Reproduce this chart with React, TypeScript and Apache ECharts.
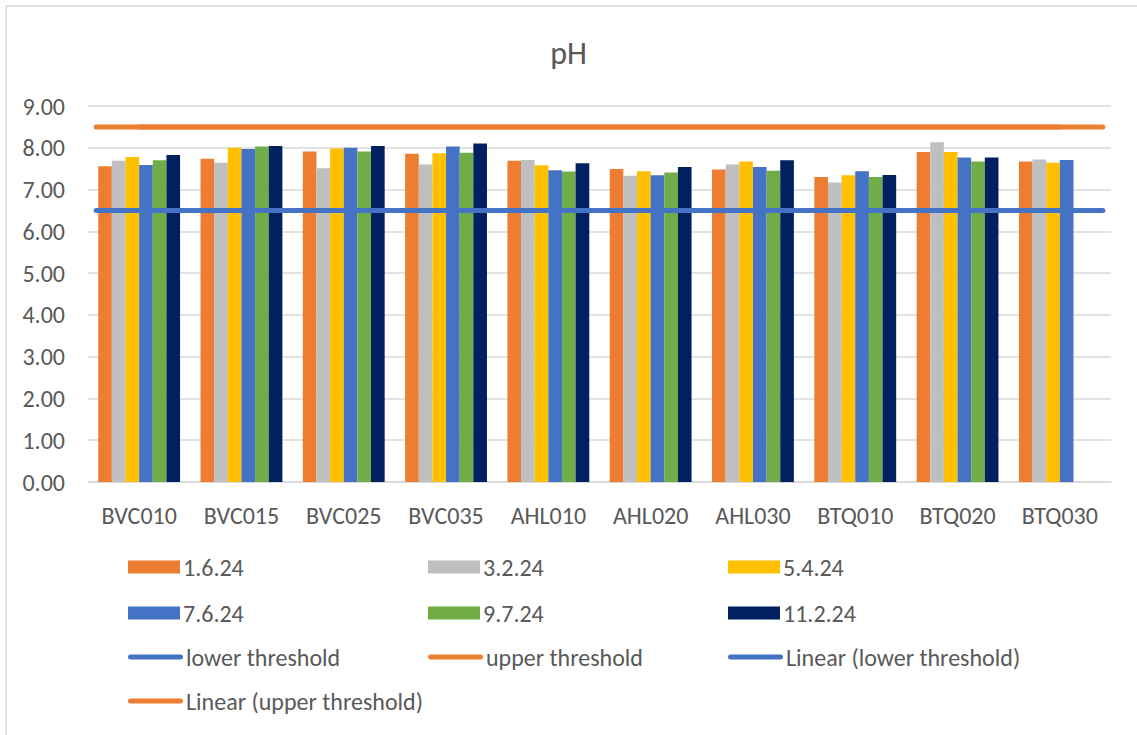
import React, { useEffect, useRef } from "react";
import * as echarts from "echarts";

const categories = ["BVC010", "BVC015", "BVC025", "BVC035", "AHL010", "AHL020", "AHL030", "BTQ010", "BTQ020", "BTQ030"];
const s1_6_24 = [7.56, 7.74, 7.91, 7.86, 7.69, 7.49, 7.48, 7.30, 7.90, 7.67];
const s3_2_24 = [7.69, 7.64, 7.51, 7.60, 7.71, 7.33, 7.60, 7.17, 8.13, 7.72];
const s5_4_24 = [7.78, 8.00, 7.98, 7.87, 7.58, 7.44, 7.67, 7.34, 7.90, 7.64];
const s7_6_24 = [7.59, 7.97, 8.00, 8.03, 7.46, 7.34, 7.54, 7.44, 7.77, 7.71];
const s9_7_24 = [7.70, 8.03, 7.91, 7.88, 7.43, 7.41, 7.45, 7.30, 7.67, null];
const s11_2_24 = [7.83, 8.04, 8.04, 8.10, 7.63, 7.54, 7.70, 7.35, 7.77, null];
const lowerThreshold = [6.5, 6.5, 6.5, 6.5, 6.5, 6.5, 6.5, 6.5, 6.5, 6.5];
const upperThreshold = [8.5, 8.5, 8.5, 8.5, 8.5, 8.5, 8.5, 8.5, 8.5, 8.5];
// trendline extent in category units (first/last category index, extended)
const trendX = [-0.42, 9.42];
const lowerTrend = [6.5, 6.5];
const upperTrend = [8.5, 8.5];
const yTicks = [0, 1, 2, 3, 4, 5, 6, 7, 8, 9];

const barSeries = [
  { name: "1.6.24", data: s1_6_24, color: "#ED7D31" },
  { name: "3.2.24", data: s3_2_24, color: "#BFBFBF" },
  { name: "5.4.24", data: s5_4_24, color: "#FFC000" },
  { name: "7.6.24", data: s7_6_24, color: "#4472C4" },
  { name: "9.7.24", data: s9_7_24, color: "#70AD47" },
  { name: "11.2.24", data: s11_2_24, color: "#002060" },
];

const FONT = "Carlito, Lato, 'Open Sans', sans-serif";
const TXT = "#595959";
const FS = 24;

export default function App() {
  const ref = useRef<HTMLDivElement>(null);
  useEffect(() => {
    if (!ref.current) return;
    const chart = echarts.init(ref.current, null, { renderer: "svg" });

    const lineIcon = "path://M2.5,0 L52.5,0 A2.5,2.5 0 0 1 52.5,5 L2.5,5 A2.5,2.5 0 0 1 2.5,0 Z";
    const cols = [128, 428, 728];
    const rows = [567, 613, 657, 701];
    const legendNames = [
      "1.6.24", "3.2.24", "5.4.24",
      "7.6.24", "9.7.24", "11.2.24",
      "lower threshold", "upper threshold", "Linear (lower threshold)",
      "Linear (upper threshold)",
    ];
    const legends = legendNames.map((n, i) => {
      const isLine = i >= 6;
      const r = Math.floor(i / 3);
      const c = i % 3;
      return {
        left: cols[c],
        top: rows[r] - 13,
        orient: "horizontal",
        itemWidth: isLine ? 55 : 52,
        itemHeight: isLine ? 5 : 13,
        itemGap: 5,
        selectedMode: false,
        padding: 0,
        textStyle: { fontFamily: FONT, fontSize: FS, color: TXT, padding: [0, 0, 0, -2], lineHeight: 26 },
        data: [isLine ? { name: n, icon: lineIcon } : { name: n, icon: "rect" }],
      };
    });

    const option: any = {
      animation: false,
      backgroundColor: "#ffffff",
      title: {
        text: "pH",
        left: "center",
        top: 32,
        textStyle: { fontFamily: FONT, fontSize: 32, fontWeight: "normal", color: TXT },
      },
      graphic: [
        {
          type: "rect",
          shape: { x: 6, y: 6, width: 1200, height: 800 },
          style: { fill: "none", stroke: "#D9D9D9", lineWidth: 1.5 },
          silent: true,
        },
      ],
      legend: legends,
      grid: { left: 88, right: 26, top: 106, bottom: 253, containLabel: false },
      xAxis: [
        {
          type: "category",
          data: categories,
          axisTick: { show: false },
          axisLine: { lineStyle: { color: "#D9D9D9", width: 1.5 } },
          axisLabel: { fontFamily: FONT, fontSize: FS, color: TXT, margin: 21 },
        },
        {
          type: "value",
          min: -0.5,
          max: 9.5,
          show: false,
        },
      ],
      yAxis: {
        type: "value",
        min: yTicks[0],
        max: yTicks[yTicks.length - 1],
        interval: 1,
        axisLine: { show: false },
        axisTick: { show: false },
        splitLine: { lineStyle: { color: "#D9D9D9", width: 1.5 } },
        axisLabel: {
          fontFamily: FONT,
          fontSize: FS,
          color: TXT,
          margin: 23,
          formatter: (v: number) => v.toFixed(2),
        },
      },
      series: [
        ...barSeries.map((s) => ({
          name: s.name,
          type: "bar",
          data: s.data,
          barGap: "0%",
          barCategoryGap: "20%",
          itemStyle: { color: s.color },
          xAxisIndex: 0,
        })),
        {
          name: "Linear (lower threshold)",
          type: "line",
          xAxisIndex: 1,
          data: trendX.map((x, i) => [x, lowerTrend[i]]),
          showSymbol: false,
          symbol: "none",
          itemStyle: { color: "#4472C4" },
          lineStyle: { color: "#4472C4", width: 5, cap: "round" },
          z: 5,
        },
        {
          name: "Linear (upper threshold)",
          type: "line",
          xAxisIndex: 1,
          data: trendX.map((x, i) => [x, upperTrend[i]]),
          showSymbol: false,
          symbol: "none",
          itemStyle: { color: "#ED7D31" },
          lineStyle: { color: "#ED7D31", width: 5, cap: "round" },
          z: 5,
        },
        {
          name: "lower threshold",
          type: "line",
          data: lowerThreshold,
          showSymbol: false,
          symbol: "none",
          itemStyle: { color: "#4472C4" },
          lineStyle: { color: "#4472C4", width: 5, cap: "round" },
          z: 6,
        },
        {
          name: "upper threshold",
          type: "line",
          data: upperThreshold,
          showSymbol: false,
          symbol: "none",
          itemStyle: { color: "#ED7D31" },
          lineStyle: { color: "#ED7D31", width: 5, cap: "round" },
          z: 6,
        },
      ],
    };
    chart.setOption(option);
    return () => chart.dispose();
  }, []);
  return (
    <div
      ref={ref}
      style={{ position: "fixed", left: 0, top: 0, width: 1137, height: 735, background: "#fff" }}
    />
  );
}
